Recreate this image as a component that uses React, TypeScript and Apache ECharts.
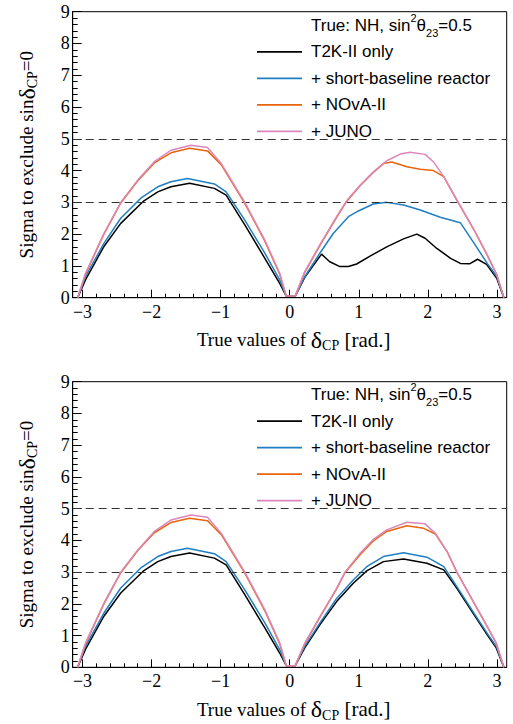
import React, { useEffect, useRef } from "react";
import * as echarts from "echarts";

// ---------- data ----------
const seriesNames = ["T2K-II only", "+ short-baseline reactor", "+ NOvA-II", "+ JUNO"];
const seriesColors = ["#000000", "#1f7fc2", "#e8650c", "#dc86bc"];

const majorTicksX = [-3, -2, -1, 0, 1, 2, 3];

// left hump (delta_CP < 0), same in both panels
const blackLeft = [[-3.07, 0], [-2.955, 0.57], [-2.69, 1.61], [-2.446, 2.34], [-2.11, 3.05], [-1.91, 3.33], [-1.72, 3.49], [-1.45, 3.6], [-1.09, 3.44], [-0.92, 3.23], [-0.65, 2.29], [-0.36, 1.24], [-0.145, 0.45], [-0.05, 0.05]];
const blueLeft = [[-3.07, 0], [-2.955, 0.67], [-2.69, 1.71], [-2.446, 2.5], [-2.156, 3.13], [-1.91, 3.49], [-1.72, 3.65], [-1.48, 3.75], [-1.09, 3.58], [-0.92, 3.33], [-0.65, 2.44], [-0.36, 1.4], [-0.145, 0.56], [-0.05, 0.05]];
const orangeLeft = [[-3.07, 0], [-2.955, 0.75], [-2.69, 2.0], [-2.446, 2.98], [-2.2, 3.68], [-1.96, 4.24], [-1.72, 4.56], [-1.45, 4.7], [-1.19, 4.62], [-0.99, 4.18], [-0.65, 2.97], [-0.36, 1.78], [-0.145, 0.74], [-0.05, 0.05]];
const pinkLeft = [[-3.07, 0], [-2.955, 0.77], [-2.69, 2.02], [-2.446, 3.0], [-2.2, 3.7], [-1.96, 4.28], [-1.72, 4.64], [-1.43, 4.8], [-1.19, 4.73], [-0.99, 4.22], [-0.65, 3.0], [-0.36, 1.81], [-0.145, 0.77], [-0.05, 0.05]];

// right hump, top panel
const blackTopRight = [[0.08, 0.05], [0.218, 0.64], [0.461, 1.37], [0.58, 1.13], [0.727, 0.98], [0.85, 0.98], [0.969, 1.06], [1.163, 1.31], [1.405, 1.6], [1.648, 1.85], [1.84, 2.0], [1.96, 1.87], [2.13, 1.55], [2.33, 1.24], [2.47, 1.08], [2.61, 1.07], [2.72, 1.21], [2.85, 1.05], [3.0, 0.6], [3.1, 0]];
const blueTopRight = [[0.08, 0.05], [0.218, 0.66], [0.436, 1.4], [0.63, 2.02], [0.85, 2.55], [0.994, 2.73], [1.21, 2.95], [1.405, 3.0], [1.648, 2.92], [1.89, 2.76], [2.18, 2.53], [2.47, 2.36], [2.67, 1.71], [2.86, 1.08], [3.0, 0.66], [3.1, 0]];
const orangeTopRight = [[0.08, 0.05], [0.218, 0.8], [0.436, 1.64], [0.679, 2.53], [0.824, 3.03], [1.018, 3.52], [1.21, 3.94], [1.357, 4.22], [1.478, 4.27], [1.696, 4.12], [1.89, 4.04], [2.08, 4.0], [2.23, 3.81], [2.42, 3.07], [2.67, 2.13], [2.86, 1.34], [3.0, 0.71], [3.1, 0]];
const pinkTopRight = [[0.08, 0.05], [0.218, 0.82], [0.436, 1.66], [0.679, 2.55], [0.824, 3.05], [1.018, 3.54], [1.21, 3.96], [1.405, 4.31], [1.6, 4.52], [1.744, 4.58], [1.96, 4.51], [2.08, 4.28], [2.23, 3.81], [2.42, 3.07], [2.67, 2.13], [2.86, 1.34], [3.0, 0.71], [3.1, 0]];

// right hump, bottom panel
const blackBottomRight = [[0.08, 0.05], [0.218, 0.61], [0.436, 1.34], [0.679, 2.07], [0.92, 2.65], [1.115, 3.04], [1.357, 3.33], [1.648, 3.41], [1.987, 3.28], [2.23, 3.07], [2.42, 2.49], [2.67, 1.65], [2.86, 1.02], [2.99, 0.61], [3.1, 0]];
const blueBottomRight = [[0.08, 0.05], [0.218, 0.66], [0.436, 1.39], [0.679, 2.17], [0.92, 2.75], [1.115, 3.17], [1.357, 3.49], [1.648, 3.61], [1.987, 3.47], [2.23, 3.17], [2.42, 2.54], [2.67, 1.7], [2.86, 1.07], [2.99, 0.66], [3.1, 0]];
const orangeBottomRight = [[0.08, 0.05], [0.218, 0.74], [0.436, 1.57], [0.679, 2.47], [0.8, 2.98], [1.018, 3.55], [1.21, 3.98], [1.405, 4.28], [1.696, 4.46], [1.94, 4.38], [2.11, 4.2], [2.28, 3.64], [2.42, 3.0], [2.67, 2.02], [2.86, 1.28], [2.99, 0.76], [3.1, 0]];
const pinkBottomRight = [[0.08, 0.05], [0.218, 0.76], [0.436, 1.59], [0.679, 2.49], [0.8, 3.0], [1.018, 3.59], [1.21, 4.03], [1.405, 4.33], [1.696, 4.57], [1.96, 4.52], [2.11, 4.22], [2.28, 3.64], [2.42, 3.0], [2.67, 2.02], [2.86, 1.28], [2.99, 0.76], [3.1, 0]];

const thresholds = [5, 3];

// ---------- styling ----------
const SERIF = "Liberation Serif";
const SANS = "Liberation Sans";

const panels = [
  { top: 11.7, height: 286, legendTop: 43.4, titleY: 25, right: [blackTopRight, blueTopRight, orangeTopRight, pinkTopRight] },
  { top: 381.7, height: 285.6, legendTop: 412.6, titleY: 394.5, right: [blackBottomRight, blueBottomRight, orangeBottomRight, pinkBottomRight] },
];
const lefts = [blackLeft, blueLeft, orangeLeft, pinkLeft];

const minorTicksX: number[] = [];
for (let i = -15; i <= 15; i++) minorTicksX.push(i / 5);

const fmt = (v: number) => (v < 0 ? "\u2212" + Math.abs(v) : String(v));

const titleRich = {
  d: { fontFamily: SERIF, fontSize: 24, color: "#000", lineHeight: 26 },
  s: { fontFamily: SERIF, fontSize: 14, color: "#000", verticalAlign: "bottom", lineHeight: 14 },
  r: { fontFamily: SERIF, fontSize: 21, color: "#000", lineHeight: 26 },
};

function buildOption() {
  const grid: any[] = [];
  const xAxis: any[] = [];
  const yAxis: any[] = [];
  const series: any[] = [];
  const legend: any[] = [];
  const graphic: any[] = [];

  panels.forEach((p, pi) => {
    grid.push({ left: 72.7, top: p.top, width: 434, height: p.height, show: true, borderColor: "#000", borderWidth: 1, backgroundColor: "transparent" });
    xAxis.push({
      type: "value", gridIndex: pi, min: -Math.PI, max: Math.PI, position: "bottom",
      axisLine: { show: true, onZero: false, lineStyle: { color: "#000", width: 1 } },
      axisTick: { show: true, inside: true, length: 8, customValues: majorTicksX, lineStyle: { color: "#000" } },
      axisLabel: { show: true, customValues: majorTicksX, formatter: fmt, margin: 5, fontFamily: SERIF, fontSize: 18, color: "#000" },
      splitLine: { show: false },
      name: "True values of {d|\u03b4}{s|CP}{r| [rad.]}",
      nameLocation: "middle", nameGap: 29,
      nameTextStyle: { fontFamily: SERIF, fontSize: 19, color: "#000", lineHeight: 26, padding: [0, 0, 0, 8], rich: titleRich },
    });
    xAxis.push({
      type: "value", gridIndex: pi, min: -Math.PI, max: Math.PI, position: "bottom",
      axisLine: { show: false },
      axisTick: { show: true, inside: true, length: 4, customValues: minorTicksX, lineStyle: { color: "#000" } },
      axisLabel: { show: false },
      splitLine: { show: false },
    });
    yAxis.push({
      type: "value", gridIndex: pi, min: 0, max: 9, interval: 1,
      axisLine: { show: true, onZero: false, lineStyle: { color: "#000", width: 1 } },
      axisTick: { show: true, inside: true, length: 9, lineStyle: { color: "#000" } },
      minorTick: { show: true, splitNumber: 5, length: 5, lineStyle: { color: "#000" } },
      axisLabel: { margin: 3, fontFamily: SERIF, fontSize: 18, color: "#000" },
      splitLine: { show: false },
      minorSplitLine: { show: false },
      name: "Sigma to exclude sin{d|\u03b4}{s|CP}=0",
      nameLocation: "middle", nameGap: 33,
      nameTextStyle: { fontFamily: SERIF, fontSize: 19, color: "#000", lineHeight: 26, rich: titleRich },
    });

    seriesNames.forEach((name, si) => {
      const s: any = {
        type: "line", name, xAxisIndex: pi * 2, yAxisIndex: pi,
        data: [...lefts[si], ...p.right[si]],
        symbol: "none", showSymbol: false,
        lineStyle: { color: seriesColors[si], width: 1.5 },
        itemStyle: { color: seriesColors[si] },
        z: 3 + si,
      };
      if (si === 0) {
        s.markLine = {
          silent: true, symbol: "none",
          label: { show: false },
          lineStyle: { color: "#333", width: 1, type: [8, 5] },
          data: thresholds.map((t) => ({ yAxis: t })),
        };
      }
      series.push(s);
    });

    legend.push({
      left: 257, top: p.legendTop, orient: "vertical", padding: 0,
      icon: "rect", itemWidth: 45, itemHeight: 1.6, itemGap: 9.5,
      data: seriesNames,
      selectedMode: false,
      textStyle: { fontFamily: SANS, fontSize: 17, color: "#000", lineHeight: 17, padding: [0, 0, 0, 4] },
    });

    graphic.push({
      type: "text", left: 311, top: p.titleY - 13,
      style: {
        text: "True: NH, sin{sup|2}\u03b8{sub|23}=0.5",
        fontFamily: SANS, fontSize: 17, fill: "#000", lineHeight: 26,
        rich: {
          sup: { fontFamily: SANS, fontSize: 11, fill: "#000", verticalAlign: "top", lineHeight: 14 },
          sub: { fontFamily: SANS, fontSize: 11, fill: "#000", verticalAlign: "bottom", lineHeight: 14 },
        },
      },
    });
  });

  return { animation: false, backgroundColor: "#fff", grid, xAxis, yAxis, series, legend, graphic };
}

export default function App() {
  const ref = useRef<HTMLDivElement>(null);
  useEffect(() => {
    const chart = echarts.init(ref.current!, null, { renderer: "svg" });
    chart.setOption(buildOption() as any);
    return () => chart.dispose();
  }, []);
  return <div ref={ref} style={{ position: "absolute", left: 0, top: 0, width: 513, height: 724, background: "#fff" }} />;
}
